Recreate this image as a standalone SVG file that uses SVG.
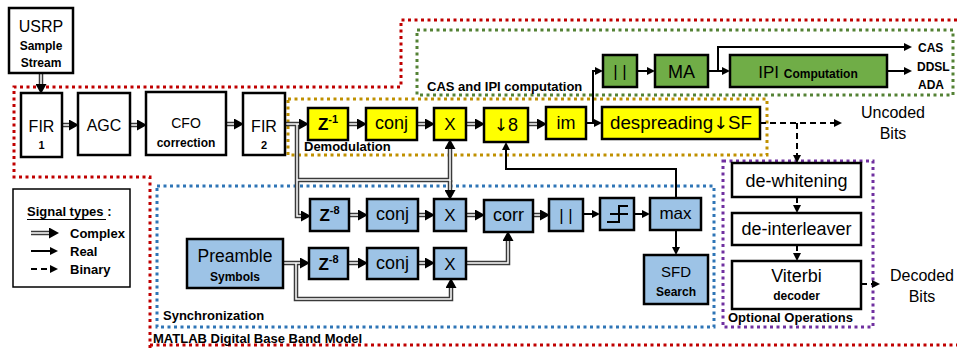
<svg xmlns="http://www.w3.org/2000/svg" width="957" height="349" viewBox="0 0 957 349">
<defs>
<style>
text{font-family:"Liberation Sans",Arial,sans-serif;fill:#000}
.c{text-anchor:middle}
.b{font-weight:bold}
.arw{font-family:"DejaVu Sans",sans-serif}
.box{stroke:#000;stroke-width:2.5}
.w{fill:#fff}.y{fill:#ffff00}.g{fill:#70ad47}.bl{fill:#9dc3e6}
.dout{fill:none;stroke:#3a3a3a;stroke-width:4.5}
.din{fill:none;stroke:#fff;stroke-width:1.5}
.real{fill:none;stroke:#000;stroke-width:2}
.bin{fill:none;stroke:#000;stroke-width:2;stroke-dasharray:6 4}
.dot{fill:none;stroke-width:3;stroke-dasharray:3 3.5}
</style>
<marker id="ad" markerUnits="userSpaceOnUse" markerWidth="10" markerHeight="11" refX="0" refY="5.5" orient="auto"><path d="M0,0 L10,5.5 L0,11 z" fill="#000"/></marker>
<marker id="ar" markerUnits="userSpaceOnUse" markerWidth="8" markerHeight="8" refX="0" refY="4" orient="auto"><path d="M0,0 L8,4 L0,8 z" fill="#000"/></marker>
</defs>
<rect width="957" height="349" fill="#fff"/>

<g id="boundaries">
<path class="dot" stroke="#c00000" d="M957 20 H401 V87 H14 V177 H150 V349 M150 345 H957"/>
<rect class="dot" stroke="#548235" x="417" y="30" width="536" height="65"/>
<rect class="dot" stroke="#bf9000" x="288" y="99" width="479" height="56"/>
<rect class="dot" stroke="#2e75b6" x="157" y="186" width="557" height="141"/>
<rect class="dot" stroke="#7030a0" x="723" y="161" width="150" height="166"/>
<text class="b" x="427" y="91" font-size="13">CAS and IPI computation</text>
<text class="b" x="304" y="151" font-size="13">Demodulation</text>
<text class="b" x="163" y="320" font-size="13">Synchronization</text>
<text class="b" x="728" y="322" font-size="13">Optional Operations</text>
<text class="b" x="153" y="343" font-size="13">MATLAB Digital Base Band Model</text>
</g>

<g id="legend">
<rect x="13" y="189" width="117" height="98" fill="#fff" stroke="#000" stroke-width="1.5"/>
<text class="b" x="27" y="216" font-size="13">Signal types :</text>
<line x1="27" y1="219.5" x2="106" y2="219.5" stroke="#000" stroke-width="1.2"/>
<path class="dout" d="M31 233 H49" marker-end="url(#ad)"/>
<path class="din" d="M31 233 H49"/>
<path class="real" d="M31 251 H50" marker-end="url(#ar)"/>
<path class="bin" d="M31 269 H50" stroke-dasharray="8 5" marker-end="url(#ar)"/>
<text class="b" x="70" y="238" font-size="13">Complex</text>
<text class="b" x="70" y="256" font-size="13">Real</text>
<text class="b" x="70" y="274" font-size="13">Binary</text>
</g>

<g id="connectors">
<g class="dout" marker-end="url(#ad)">
<path d="M41 73 V84"/>
<path d="M62 125 H69"/>
<path d="M130 125 H137"/>
<path d="M226 124 H234"/>
<path d="M285 124 H299"/>
<path d="M348 124 H357"/>
<path d="M417 124 H425"/>
<path d="M466 124 H475"/>
<path d="M528 124 H537"/>
<path d="M297 124 V216 H301"/>
<path d="M297 180 H450 V149"/>
<path d="M450 180 V190"/>
<path d="M349 215 H358"/>
<path d="M418 215 H425"/>
<path d="M466 215 H475"/>
<path d="M533 215 H540"/>
<path d="M283 263 H300"/>
<path d="M296 263 V299 H451 V288"/>
<path d="M348 263 H358"/>
<path d="M418 263 H425"/>
<path d="M466 263 H508 V241"/>
</g>
<g class="din">
<path d="M41 73 V84"/>
<path d="M62 125 H69"/>
<path d="M130 125 H137"/>
<path d="M226 124 H234"/>
<path d="M285 124 H299"/>
<path d="M348 124 H357"/>
<path d="M417 124 H425"/>
<path d="M466 124 H475"/>
<path d="M528 124 H537"/>
<path d="M297 124 V216 H301"/>
<path d="M297 180 H450 V149"/>
<path d="M450 180 V190"/>
<path d="M349 215 H358"/>
<path d="M418 215 H425"/>
<path d="M466 215 H475"/>
<path d="M533 215 H540"/>
<path d="M283 263 H300"/>
<path d="M296 263 V299 H451 V288"/>
<path d="M348 263 H358"/>
<path d="M418 263 H425"/>
<path d="M466 263 H508 V241"/>
</g>
<g class="real" marker-end="url(#ar)">
<path d="M586 123 H594"/>
<path d="M593 123 V71 H595"/>
<path d="M637 71 H647"/>
<path d="M708 71 H722"/>
<path d="M718 71 V47 H904"/>
<path d="M887 71 H904"/>
<path d="M583 214 H592"/>
<path d="M634 214 H642"/>
<path d="M676 230 V247"/>
<path d="M676 198 V169 H506 V150"/>
</g>
<g class="bin" marker-end="url(#ar)">
<path d="M760 123 H834"/>
<path d="M797 123 V155"/>
<path d="M797 197 V205"/>
<path d="M797 245 V253"/>
<path d="M861 284 H872"/>
</g>
</g>

<g id="usrp"><rect class="box w" x="9" y="8" width="64" height="65"/>
<text class="c" x="41" y="32" font-size="16">USRP</text>
<text class="c b" x="41" y="50" font-size="12">Sample</text>
<text class="c b" x="41" y="67" font-size="12">Stream</text></g>

<g id="fir1"><rect class="box w" x="21" y="93" width="41" height="64"/>
<text class="c" x="41.5" y="132" font-size="16">FIR</text>
<text class="c b" x="41.5" y="149" font-size="11">1</text></g>

<g id="agc"><rect class="box w" x="78" y="93" width="52" height="62"/>
<text class="c" x="104" y="131" font-size="16">AGC</text></g>

<g id="cfo"><rect class="box w" x="146" y="92" width="80" height="63"/>
<text class="c" x="186" y="128" font-size="14">CFO</text>
<text class="c b" x="186" y="147" font-size="12">correction</text></g>

<g id="fir2"><rect class="box w" x="243" y="93" width="42" height="62"/>
<text class="c" x="264" y="132" font-size="16">FIR</text>
<text class="c b" x="264" y="149" font-size="11">2</text></g>

<g id="z1"><rect class="box y" x="308" y="108" width="40" height="32"/>
<text class="c b" x="328" y="130" font-size="17">Z<tspan font-size="11" dy="-7">-1</tspan></text></g>
<g id="conj1"><rect class="box y" x="366" y="108" width="51" height="32"/>
<text class="c" x="391.5" y="129" font-size="18">conj</text></g>
<g id="x1"><rect class="box y" x="434" y="108" width="32" height="32"/>
<text class="c" x="450" y="130" font-size="17">X</text></g>
<g id="down8"><rect class="box y" x="484" y="108" width="44" height="34"/>
<text class="c" x="506" y="131" font-size="18"><tspan class="arw" font-size="17">↓</tspan>8</text></g>
<g id="im"><rect class="box y" x="546" y="107" width="40" height="32"/>
<text class="c" x="566" y="129" font-size="18">im</text></g>
<g id="despreading"><rect class="box y" x="602" y="107" width="158" height="32"/>
<text class="c" x="681" y="129" font-size="18" textLength="142" lengthAdjust="spacingAndGlyphs">despreading<tspan class="arw" font-size="17">↓</tspan>SF</text></g>

<g id="abs1"><rect class="box g" x="603" y="55" width="34" height="32"/>
<text class="c" x="620" y="77" font-size="17">| |</text></g>
<g id="ma"><rect class="box g" x="655" y="55" width="53" height="32"/>
<text class="c" x="681.5" y="78" font-size="18">MA</text></g>
<g id="ipi"><rect class="box g" x="730" y="55" width="157" height="32"/>
<text class="c" x="808" y="78" font-size="17">IPI <tspan class="b" font-size="12">Computation</tspan></text></g>
<g id="outputs">
<text class="b" x="918" y="52" font-size="12">CAS</text>
<text class="b" x="917" y="71" font-size="12">DDSL</text>
<text class="b" x="918" y="89" font-size="12">ADA</text>
<text class="c" x="893" y="118" font-size="16">Uncoded</text>
<text class="c" x="893" y="139" font-size="16">Bits</text>
<text class="c" x="922" y="281" font-size="16">Decoded</text>
<text class="c" x="922" y="302" font-size="16">Bits</text>
</g>

<g id="z8a"><rect class="box bl" x="310" y="199" width="39" height="32"/>
<text class="c b" x="329.5" y="221" font-size="17">Z<tspan font-size="11" dy="-7">-8</tspan></text></g>
<g id="conj2"><rect class="box bl" x="367" y="199" width="51" height="32"/>
<text class="c" x="392.5" y="220" font-size="18">conj</text></g>
<g id="x2"><rect class="box bl" x="434" y="199" width="32" height="32"/>
<text class="c" x="450" y="221" font-size="17">X</text></g>
<g id="corr"><rect class="box bl" x="484" y="200" width="49" height="32"/>
<text class="c" x="508.5" y="221" font-size="18">corr</text></g>
<g id="abs2"><rect class="box bl" x="549" y="199" width="34" height="32"/>
<text class="c" x="566" y="221" font-size="17">| |</text></g>
<g id="threshold"><rect class="box bl" x="600" y="198" width="34" height="32"/>
<path d="M607 222 H619 V206 H628 M610 214 H628" fill="none" stroke="#000" stroke-width="2"/></g>
<g id="max"><rect class="box bl" x="650" y="198" width="51" height="32"/>
<text class="c" x="675.5" y="219" font-size="17">max</text></g>
<g id="sfd"><rect class="box bl" x="644" y="255" width="64" height="49"/>
<text class="c" x="676" y="277" font-size="15">SFD</text>
<text class="c b" x="676" y="296" font-size="12">Search</text></g>

<g id="preamble"><rect class="box bl" x="187" y="239" width="96" height="49"/>
<text class="c" x="235" y="262" font-size="17.5">Preamble</text>
<text class="c b" x="235" y="281" font-size="12">Symbols</text></g>
<g id="z8b"><rect class="box bl" x="309" y="248" width="39" height="31"/>
<text class="c b" x="328.5" y="270" font-size="17">Z<tspan font-size="11" dy="-7">-8</tspan></text></g>
<g id="conj3"><rect class="box bl" x="367" y="248" width="51" height="31"/>
<text class="c" x="392.5" y="269" font-size="18">conj</text></g>
<g id="x3"><rect class="box bl" x="434" y="248" width="32" height="31"/>
<text class="c" x="450" y="270" font-size="17">X</text></g>

<g id="dewhitening"><rect class="box w" x="732" y="163" width="129" height="34"/>
<text class="c" x="796.5" y="187" font-size="18">de-whitening</text></g>
<g id="deinterleaver"><rect class="box w" x="732" y="213" width="129" height="32"/>
<text class="c" x="796.5" y="235" font-size="18">de-interleaver</text></g>
<g id="viterbi"><rect class="box w" x="732" y="261" width="129" height="48"/>
<text class="c" x="796.5" y="282" font-size="18">Viterbi</text>
<text class="c b" x="796.5" y="300" font-size="12">decoder</text></g>
</svg>
